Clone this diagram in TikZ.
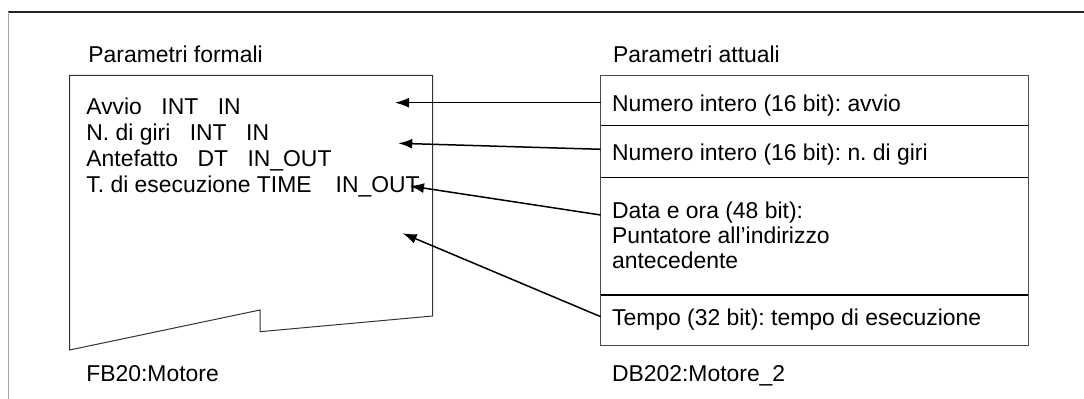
\documentclass[tikz,border=0pt]{standalone}
\usepackage{fontspec}
\setmainfont{Liberation Sans}
\usetikzlibrary{arrows.meta}
\frenchspacing

\begin{document}
\begin{tikzpicture}[x=0.5pt,y=-0.5pt,
    txt/.style={anchor=base west, inner sep=0pt, font=\fontsize{11.45}{13.5}\selectfont},
    link/.style={line width=0.75pt, -{Latex[length=7pt,width=5pt]}}]
\useasboundingbox (0,0) rectangle (1084,399);
% page rules
\draw[line width=0.7pt, black!85] (8,12) -- (1084,12);
\draw[line width=0.4pt, black!35] (8,12) -- (8,399);
% function block with torn bottom edge
\draw[line width=0.5pt, black!80] (69.7,75.5) -- (432.7,75.5) -- (432.7,316) -- (260,331.7) -- (260,310) -- (69.7,350) -- cycle;
% instance data block
\draw[line width=0.5pt, black!70] (600.7,75.5) rectangle (1028.3,345.5);
\foreach \y in {125.7,177.3,295}
    \draw[line width=0.7pt] (600.7,\y) -- (1028.3,\y);
% headers and footers
\foreach \Point/\Name/\Text in {(88,62.7)/hform/{Parametri formali}, (612.7,62.7)/hatt/{Parametri attuali}, (86,382)/fb/{FB20:Motore}, (611.7,382)/db/{DB202:Motore\_2}}
    \node[txt] (\Name) at \Point {\Text};
% formal parameters
\foreach \Point/\Name/\Text in {(86,115)/p1/{Avvio\hspace{0.85em}INT\hspace{0.85em}IN}, (86,141)/p2/{N. di giri\hspace{0.85em}INT\hspace{0.85em}IN}, (86,167)/p3/{Antefatto\hspace{0.85em}DT\hspace{0.85em}IN\_OUT}, (86,193)/p4/{T. di esecuzione TIME\hspace{1.05em}IN\_OUT}}
    \node[txt] (\Name) at \Point {\Text};
% actual parameters
\foreach \Point/\Name/\Text in {(611.7,111.7)/r1/{Numero intero (16 bit): avvio}, (611.7,161)/r2/{Numero intero (16 bit): n. di giri}, (611.7,219)/r3a/{Data e ora (48 bit):}, (611.7,244)/r3b/{Puntatore all’indirizzo}, (611.7,268.5)/r3c/{antecedente}, (611.7,326)/r4/{Tempo (32 bit): tempo di esecuzione}}
    \node[txt] (\Name) at \Point {\Text};
% arrow ends
\foreach \Point/\Name in {(600.7,102.7)/s1, (600.7,149.3)/s2, (600.7,215)/s3, (600.7,316.7)/s4, (395,102.7)/t1, (398.3,143.3)/t2, (410,186)/t3, (402.7,233.3)/t4}
    \path \Point coordinate (\Name);
\foreach \From/\To in {s1/t1, s2/t2, s3/t3, s4/t4}
    \draw[link] (\From) -- (\To);
\end{tikzpicture}
\end{document}
